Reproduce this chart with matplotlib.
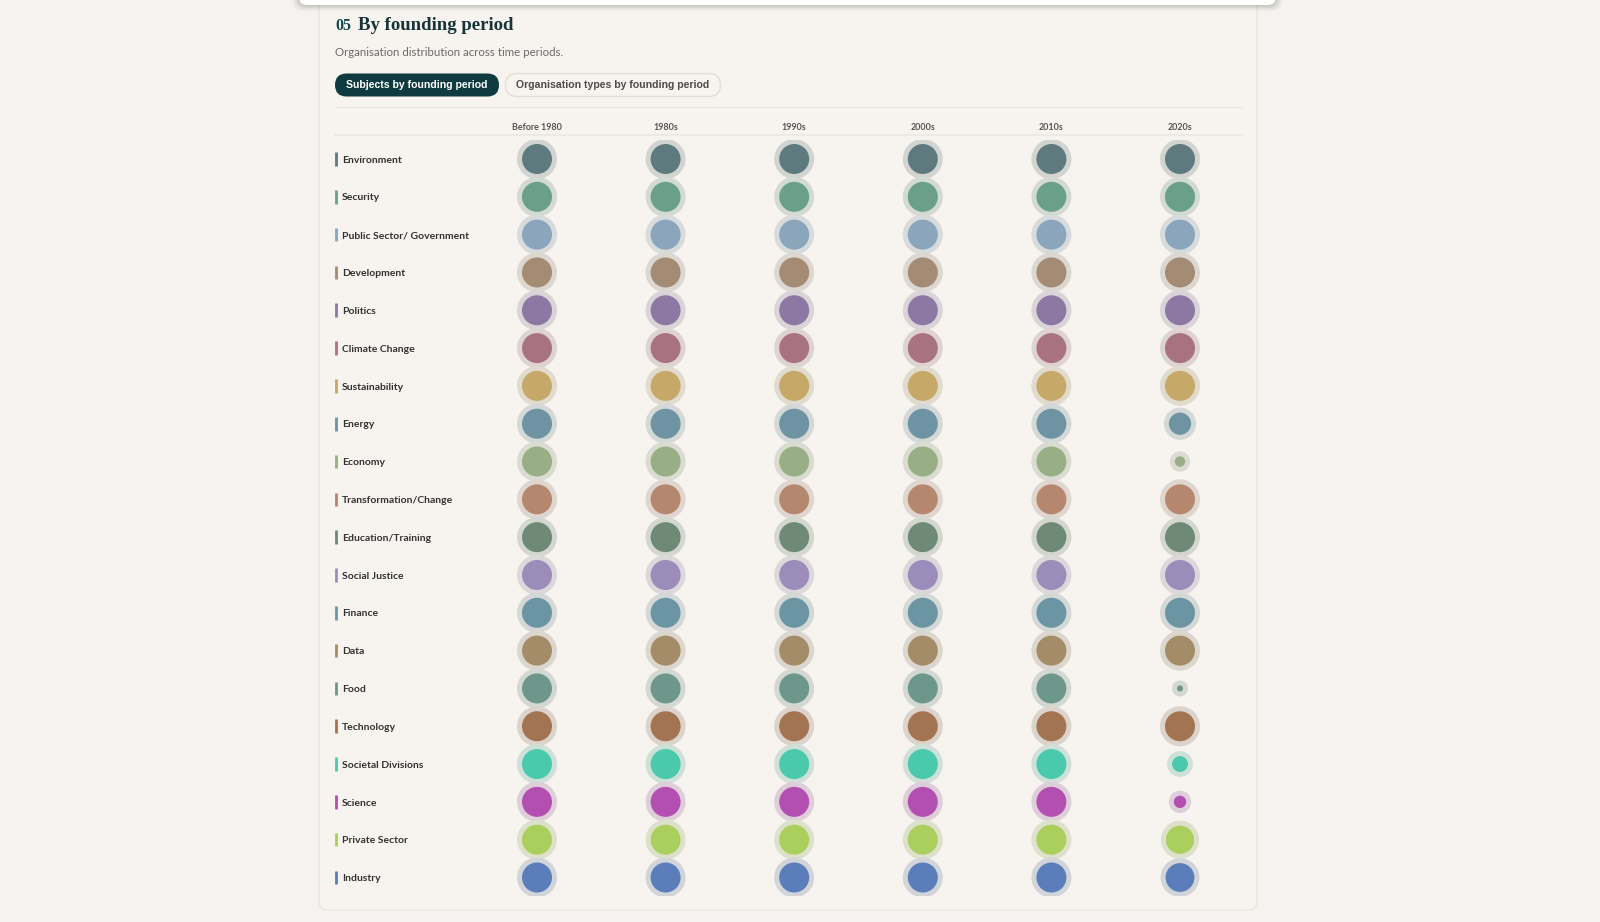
import numpy as np
import matplotlib
matplotlib.use("Agg")
import matplotlib.pyplot as plt
from matplotlib import transforms
from matplotlib.patches import FancyBboxPatch
from matplotlib.colors import to_rgb

# data: relative circle size per subject and founding period
periods = ["Before 1980", "1980s", "1990s", "2000s", "2010s", "2020s"]
subjects = ["Environment", "Security", "Public Sector/ Government", "Development",
            "Politics", "Climate Change", "Sustainability", "Energy", "Economy",
            "Transformation/Change", "Education/Training", "Social Justice", "Finance",
            "Data", "Food", "Technology", "Societal Divisions", "Science",
            "Private Sector", "Industry"]
colors = ["#5f7a7e", "#6aa08a", "#8aa5bc", "#a38b74", "#8c78a3", "#a87283",
          "#c6a868", "#6e93a3", "#98ae84", "#b5876f", "#6e8a76", "#9b8cba",
          "#6c95a3", "#a48c68", "#6e978b", "#a27452", "#4ac9ad", "#b24fb0",
          "#aacf5c", "#5b7dba"]
# share of the largest circle (1.0 = full size), one list per period
before_1980 = [1.0] * 20
s1980s = [1.0] * 20
s1990s = [1.0] * 20
s2000s = [1.0] * 20
s2010s = [1.0] * 20
s2020s = [1.0, 1.0, 1.0, 1.0, 1.0, 1.0, 1.0, 0.55, 0.12, 1.0,
          1.0, 1.0, 1.0, 1.0, 0.04, 1.0, 0.28, 0.17, 0.88, 0.92]
values = np.array([before_1980, s1980s, s1990s, s2000s, s2010s, s2020s]).T

PAGE = "#f4f3f0"
CARD = "#f7f3ee"
W, H = 1600, 922

fig = plt.figure(figsize=(16, 9.22), dpi=100, facecolor=PAGE)

# background axes in pixel coordinates for page decoration
bg = fig.add_axes([0, 0, 1, 1])
bg.set_xlim(0, W)
bg.set_ylim(H, 0)
bg.axis("off")
bg.set_facecolor("none")

# card
bg.add_patch(FancyBboxPatch((319, -20), 938, 930, boxstyle="round,pad=0,rounding_size=8",
                            fc=CARD, ec="#ebe6df", lw=1, zorder=0))
# white strip at top (sticky header) with soft shadow
for k, a in enumerate([0.03, 0.04, 0.05, 0.06]):
    bg.add_patch(FancyBboxPatch((299 - 6 + k * 1.5, -20), 977 + 12 - k * 3, 31 - k * 1.5,
                                boxstyle="round,pad=0,rounding_size=10",
                                fc="#000000", ec="none", alpha=a, zorder=1))
bg.add_patch(FancyBboxPatch((299, -20), 977, 25, boxstyle="round,pad=0,rounding_size=8",
                            fc="white", ec="none", zorder=2))

# title & subtitle
bg.text(335, 30, "05", fontsize=11.5, fontweight="bold", color="#114a4c",
        family="Liberation Serif", va="baseline", ha="left")
bg.text(358, 30, "By founding period", fontsize=13.5, fontweight="bold", color="#16343a",
        family="Liberation Serif", va="baseline", ha="left")
bg.text(335, 52, "Organisation distribution across time periods.", fontsize=8.3,
        color="#6b6b6b", family="Lato", va="center", ha="left")

# tab buttons
bg.add_patch(FancyBboxPatch((335, 73.5), 164, 23, boxstyle="round,pad=0,rounding_size=11.5",
                            fc="#0f3b40", ec="none", zorder=3))
bg.text(417, 85.5, "Subjects by founding period", fontsize=7.6, fontweight="bold",
        color="white", family="Liberation Sans", ha="center", va="center", zorder=4)
bg.add_patch(FancyBboxPatch((505.5, 73.5), 215, 23, boxstyle="round,pad=0,rounding_size=11.5",
                            fc=CARD, ec="#e2ddd6", lw=1, zorder=3))
bg.text(613, 85.5, "Organisation types by founding period", fontsize=7.6, fontweight="bold",
        color="#4d4d4d", family="Liberation Sans", ha="center", va="center", zorder=4)

# separators
bg.plot([335, 1242], [107, 107], color="#ebe7e1", lw=1, zorder=1)
bg.plot([335, 1242], [135, 135], color="#ebe7e1", lw=1.2, zorder=1)

# dot grid axes: columns at 537..1180 px, rows at 159..877.5 px
col_step = (1180 - 537) / 5
row_step = (877.5 - 159) / 19
left = 537 - col_step / 2
top = 159 - row_step / 2
ax = fig.add_axes([left / W, 1 - (top + 20 * row_step) / H, 6 * col_step / W, 20 * row_step / H])
ax.set_xlim(-0.5, 5.5)
ax.set_ylim(19.5, -0.5)
ax.axis("off")
ax.set_facecolor("none")

px_to_pt = 72 / fig.dpi
halo_base = np.array(to_rgb("#e6e4e0"))
rows = np.arange(len(subjects))
for j, period in enumerate(periods):
    r = 15 * np.sqrt(values[:, j])
    core = (2 * r * px_to_pt) ** 2
    halo = (2 * (r + 5) * px_to_pt) ** 2
    halo_cols = [0.15 * np.array(to_rgb(c)) + 0.85 * halo_base for c in colors]
    ax.scatter(np.full(len(subjects), j), rows, s=halo, c=halo_cols, linewidths=0, zorder=2)
    ax.scatter(np.full(len(subjects), j), rows, s=core, c=colors, linewidths=0, zorder=3)

# column headers
head_tr = transforms.blended_transform_factory(ax.transData, bg.transData)
for j, period in enumerate(periods):
    bg.text(j, 128, period, transform=head_tr, fontsize=6.4, color="#555555",
            family="Lato", fontweight="bold", ha="center", va="center")

# row labels with colour tick
row_tr = transforms.blended_transform_factory(bg.transData, ax.transData)
for i, (name, c) in enumerate(zip(subjects, colors)):
    bg.plot([335.5, 335.5], [i - 0.18, i + 0.18], transform=row_tr, color=c,
            lw=2, solid_capstyle="butt", zorder=3)
    bg.text(342, i + 0.03, name, transform=row_tr, fontsize=7.5, color="#333333",
            family="Lato", fontweight="bold", ha="left", va="center")

fig.savefig("out.png", dpi=100, facecolor=PAGE)
